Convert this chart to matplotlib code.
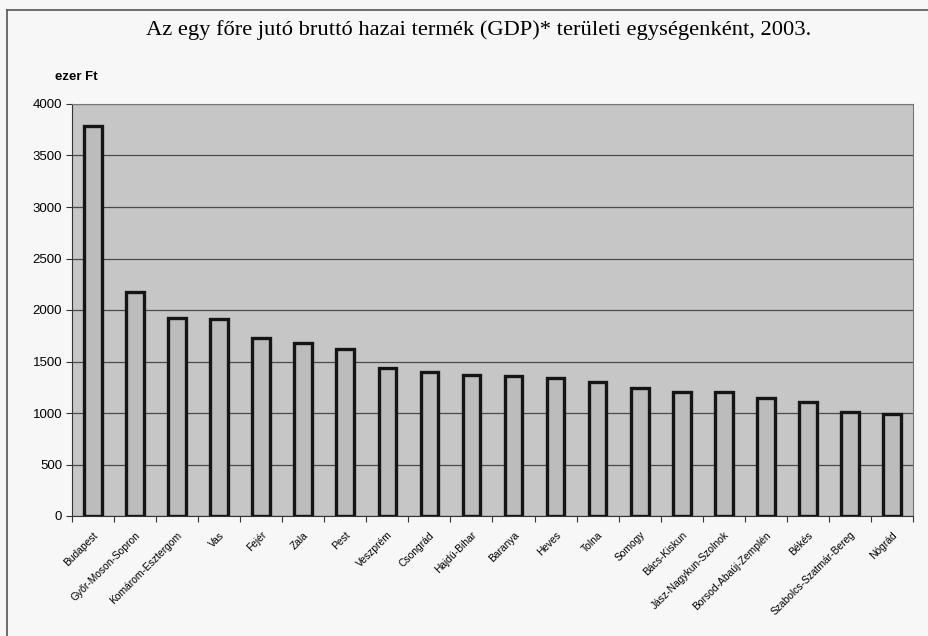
import matplotlib.pyplot as plt
from matplotlib.lines import Line2D

# megyek es ertekek (ezer Ft), leolvasva
megyek = ["Budapest", "Győr-Moson-Sopron", "Komárom-Esztergom", "Vas", "Fejér",
          "Zala", "Pest", "Veszprém", "Csongrád", "Hajdú-Bihar", "Baranya", "Heves",
          "Tolna", "Somogy", "Bács-Kiskun", "Jász-Nagykun-Szolnok",
          "Borsod-Abaúj-Zemplén", "Békés", "Szabolcs-Szatmár-Bereg", "Nógrád"]
gdp = [3790, 2178, 1919, 1909, 1724, 1678, 1623, 1434, 1402, 1373, 1356, 1340,
       1305, 1246, 1207, 1203, 1148, 1109, 1008, 988]
y_ticks = [0, 500, 1000, 1500, 2000, 2500, 3000, 3500, 4000]

fig = plt.figure(figsize=(9.29, 6.36), dpi=100)
fig.patch.set_facecolor("#f7f7f7")

# keret a diagram korul (csak bal es felso el latszik)
fig.add_artist(Line2D([7/929, 7/929], [0, 1 - 10/636], color="#555555", lw=1.2))
fig.add_artist(Line2D([7/929, 1], [1 - 10/636, 1 - 10/636], color="#555555", lw=1.2))

ax = fig.add_axes([72/929, 1 - 516/636, (913 - 72)/929, (516 - 104)/636])
ax.set_facecolor("#c6c6c6")

x = range(len(megyek))
ax.bar(x, gdp, width=0.42, color="#bcbcbc", edgecolor="#151515", linewidth=2.4, zorder=3)

ax.set_xlim(-0.5, len(megyek) - 0.5)
ax.set_ylim(0, 4000)
ax.set_yticks(y_ticks)
ax.set_yticklabels([str(v) for v in y_ticks], fontsize=9.5, family="Liberation Sans")
ax.yaxis.grid(True, color="#4a4a4a", linewidth=0.9, zorder=1)

# x tickek a kategoriak hataran, feliratok kozepen
ax.set_xticks([i + 0.5 for i in range(-1, len(megyek))], minor=False)
ax.set_xticklabels([])
ax.set_xticks(list(x), minor=True)
ax.set_xticklabels(megyek, minor=True, rotation=45, ha="right", rotation_mode="anchor",
                   fontsize=7.4, family="Liberation Sans")
ax.tick_params(axis="x", which="minor", length=0, pad=10)
ax.tick_params(axis="x", which="major", length=4, color="#333333")
ax.tick_params(axis="y", length=4, color="#333333", pad=3)

for side in ["left", "bottom"]:
    ax.spines[side].set_color("#333333")
for side in ["top", "right"]:
    ax.spines[side].set_color("#777777")

fig.text(0.515, 1 - 30/636, "Az egy főre jutó bruttó hazai termék (GDP)* területi egységenként, 2003.",
         ha="center", va="center", fontsize=16.2, family="Liberation Serif")
fig.text(55/929, 1 - 77/636, "ezer Ft", ha="left", va="center", fontsize=9.5,
         fontweight="bold", family="Liberation Sans")

fig.savefig("out.png", dpi=100, facecolor=fig.get_facecolor())
